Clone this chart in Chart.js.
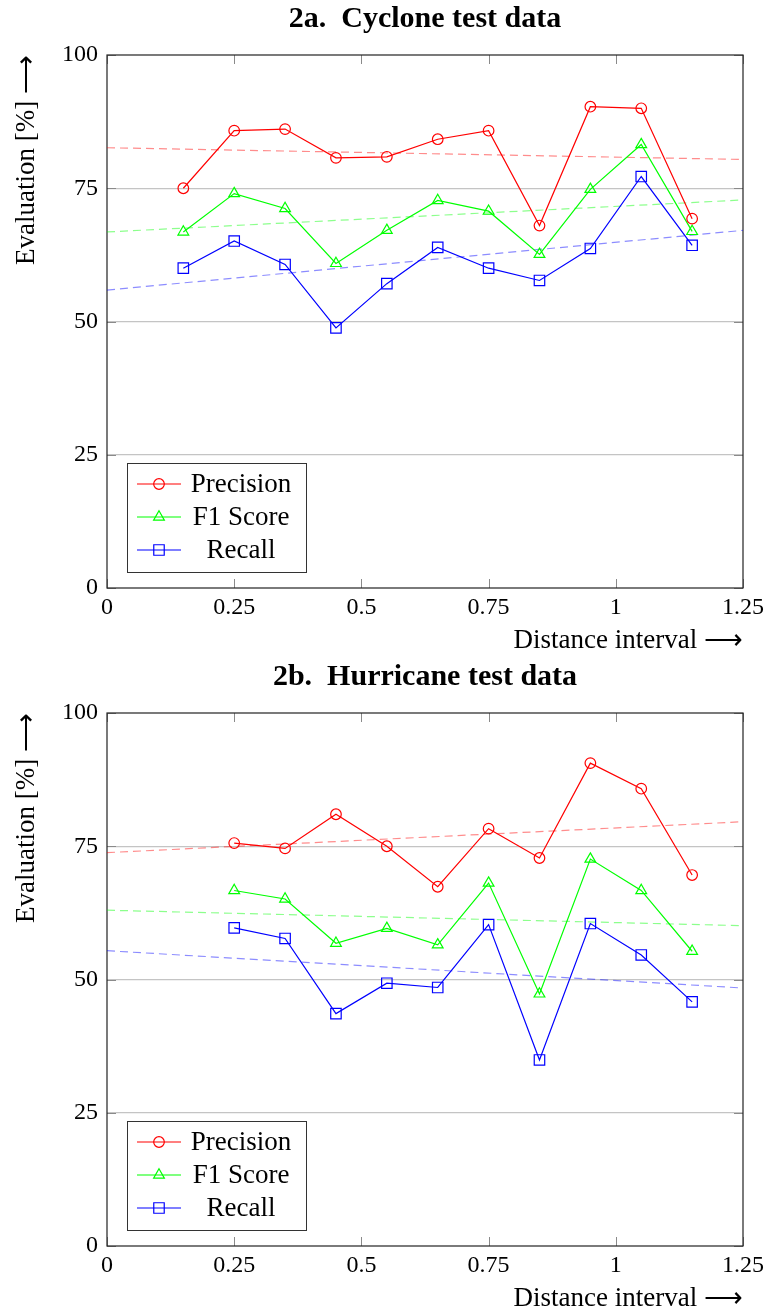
<!DOCTYPE html>
<html>
<head>
<meta charset="utf-8">
<script src="https://cdn.jsdelivr.net/npm/chart.js@4.4.0/dist/chart.umd.min.js"></script>
<style>
  body { margin: 0; background: #fff; }
  .chart-box { position: relative; width: 771px; height: 658px; }
</style>
</head>
<body>
<div class="chart-box"><canvas id="cyclone"></canvas></div>
<div class="chart-box"><canvas id="hurricane"></canvas></div>
<script>
// axis ticks
const xTicks = [0, 0.25, 0.5, 0.75, 1, 1.25];
const xTickLabels = ["0", "0.25", "0.5", "0.75", "1", "1.25"];
const yTicks = [0, 25, 50, 75, 100];
const yTickLabels = ["0", "25", "50", "75", "100"];
const seriesNames = ["Precision", "F1 Score", "Recall"];
const trendX = [0, 1.25];

// 2a. Cyclone test data
const cycloneX = [0.15, 0.25, 0.35, 0.45, 0.55, 0.65, 0.75, 0.85, 0.95, 1.05, 1.15];
const cyclonePrecision = [75.0, 85.8, 86.1, 80.7, 80.9, 84.2, 85.8, 68.0, 90.3, 90.0, 69.3];
const cycloneF1 = [66.8, 74.0, 71.2, 60.9, 67.1, 72.7, 70.7, 62.6, 74.8, 83.2, 66.9];
const cycloneRecall = [60.0, 65.1, 60.7, 48.8, 57.1, 63.9, 60.0, 57.7, 63.7, 77.2, 64.3];
const cyclonePrecisionTrend = [82.6, 80.4];
const cycloneF1Trend = [66.8, 72.8];
const cycloneRecallTrend = [55.9, 67.1];

// 2b. Hurricane test data
const hurricaneX = [0.25, 0.35, 0.45, 0.55, 0.65, 0.75, 0.85, 0.95, 1.05, 1.15];
const hurricanePrecision = [75.6, 74.6, 81.0, 75.0, 67.4, 78.3, 72.8, 90.6, 85.8, 69.6];
const hurricaneF1 = [66.7, 65.1, 56.8, 59.6, 56.5, 68.1, 47.3, 72.6, 66.7, 55.3];
const hurricaneRecall = [59.7, 57.7, 43.6, 49.3, 48.5, 60.3, 34.9, 60.5, 54.6, 45.8];
const hurricanePrecisionTrend = [73.8, 79.6];
const hurricaneF1Trend = [63.0, 60.1];
const hurricaneRecallTrend = [55.4, 48.4];

const serif = "'Liberation Serif', 'Times New Roman', serif";
const lineColors = ["#ff0000", "#00ff00", "#0000ff"];
const trendColors = ["rgba(255,0,0,0.45)", "rgba(0,255,0,0.45)", "rgba(0,0,255,0.45)"];
const markStyles = ["circle", "triangle", "rect"];
const markRadius = [5.3, 6.2, 7.4];

function pts(xs, ys) {
  return xs.map((x, i) => ({ x: x, y: ys[i] }));
}

function drawMark(ctx, style, x, y, r) {
  ctx.beginPath();
  if (style === "circle") {
    ctx.arc(x, y, r, 0, Math.PI * 2);
  } else if (style === "triangle") {
    for (let k = 0; k < 3; k++) {
      const a = k * 2 * Math.PI / 3;
      const px = x + Math.sin(a) * r, py = y - Math.cos(a) * r;
      if (k === 0) ctx.moveTo(px, py); else ctx.lineTo(px, py);
    }
    ctx.closePath();
  } else {
    const s = r * Math.SQRT1_2;
    ctx.rect(x - s, y - s, 2 * s, 2 * s);
  }
  ctx.stroke();
}

// box around the plot with small inward ticks
const framePlugin = {
  id: "frame",
  beforeDatasetsDraw(chart) {
    const { ctx, chartArea: a, scales } = chart;
    ctx.save();
    ctx.strokeStyle = "#8a8a8a";
    ctx.lineWidth = 1;
    ctx.beginPath();
    xTicks.forEach((v) => {
      const px = Math.round(scales.x.getPixelForValue(v)) + 0.5;
      ctx.moveTo(px, a.top); ctx.lineTo(px, a.top + 9);
      ctx.moveTo(px, a.bottom); ctx.lineTo(px, a.bottom - 9);
    });
    yTicks.forEach((v) => {
      const py = Math.round(scales.y.getPixelForValue(v)) + 0.5;
      ctx.moveTo(a.left, py); ctx.lineTo(a.left + 9, py);
      ctx.moveTo(a.right, py); ctx.lineTo(a.right - 9, py);
    });
    ctx.stroke();
    ctx.strokeStyle = "#222";
    ctx.lineWidth = 1.2;
    ctx.strokeRect(a.left, a.top, a.right - a.left, a.bottom - a.top);
    ctx.restore();
  }
};

// legend box inside the lower left corner
const boxLegend = {
  id: "boxLegend",
  afterDraw(chart) {
    const { ctx, chartArea: a } = chart;
    const bx = a.left + 20, by = a.bottom - 125, bw = 179, bh = 109;
    ctx.save();
    ctx.fillStyle = "#fff";
    ctx.fillRect(bx, by, bw, bh);
    ctx.strokeStyle = "#333";
    ctx.lineWidth = 1;
    ctx.strokeRect(bx + 0.5, by + 0.5, bw, bh);
    seriesNames.forEach((name, i) => {
      const y = by + 21 + i * 33;
      ctx.strokeStyle = lineColors[i];
      ctx.lineWidth = 1.2;
      ctx.beginPath();
      ctx.moveTo(bx + 10, y); ctx.lineTo(bx + 54, y);
      ctx.stroke();
      drawMark(ctx, markStyles[i], bx + 32, y, markRadius[i]);
      ctx.fillStyle = "#000";
      ctx.font = "27px " + serif;
      ctx.textAlign = "center";
      ctx.textBaseline = "middle";
      ctx.fillText(name, bx + 114, y + 1);
    });
    ctx.restore();
  }
};

function makeChart(id, title, xs, series, trends) {
  const datasets = series.map((ys, i) => ({
    label: seriesNames[i],
    data: pts(xs, ys),
    borderColor: lineColors[i],
    borderWidth: 1.2,
    pointStyle: markStyles[i],
    pointRadius: markRadius[i],
    pointBorderWidth: 1.2,
    pointBorderColor: lineColors[i],
    pointBackgroundColor: "rgba(0,0,0,0)",
    tension: 0,
    fill: false,
  }));
  trends.forEach((ys, i) => {
    datasets.push({
      label: seriesNames[i] + " trend",
      data: pts(trendX, ys),
      borderColor: trendColors[i],
      borderWidth: 1.2,
      borderDash: [8, 5],
      pointRadius: 0,
      tension: 0,
      fill: false,
    });
  });

  new Chart(document.getElementById(id), {
    type: "line",
    data: { datasets: datasets },
    plugins: [framePlugin, boxLegend],
    options: {
      responsive: true,
      maintainAspectRatio: false,
      animation: false,
      layout: { padding: { left: 0, right: 28, top: 0, bottom: 0 } },
      plugins: {
        legend: { display: false },
        tooltip: { enabled: false },
        title: {
          display: true,
          text: title,
          fullSize: false,
          color: "#000",
          font: { family: serif, size: 30, weight: "bold" },
          padding: { top: 1, bottom: 18 },
        },
      },
      scales: {
        x: {
          type: "linear",
          min: 0,
          max: 1.25,
          afterBuildTicks: (s) => { s.ticks = xTicks.map((v) => ({ value: v })); },
          afterFit: (s) => { s.height = 70; },
          ticks: {
            callback: (v, i) => xTickLabels[i],
            color: "#000",
            font: { family: serif, size: 24 },
            padding: 5,
            maxRotation: 0,
            autoSkip: false,
          },
          grid: { display: false, drawTicks: false },
          border: { display: false },
          title: {
            display: true,
            text: "Distance interval ⟶",
            align: "end",
            color: "#000",
            font: { family: serif, size: 27 },
            padding: { top: 0, bottom: 1 },
          },
        },
        y: {
          min: 0,
          max: 100,
          afterBuildTicks: (s) => { s.ticks = yTicks.map((v) => ({ value: v })); },
          afterFit: (s) => { s.width = 107; },
          ticks: {
            callback: (v, i) => yTickLabels[i],
            color: "#000",
            font: { family: serif, size: 24 },
            padding: 9,
          },
          grid: {
            drawTicks: false,
            lineWidth: 1.2,
            color: (c) => (c.tick && c.tick.value > 0 && c.tick.value < 100 ? "#c4c4c4" : "rgba(0,0,0,0)"),
          },
          border: { display: false },
          title: {
            display: true,
            text: "Evaluation [%] ⟶",
            align: "end",
            color: "#000",
            font: { family: serif, size: 27 },
            padding: { top: 11, bottom: 0 },
          },
        },
      },
    },
  });
}

makeChart("cyclone", "2a.  Cyclone test data", cycloneX,
  [cyclonePrecision, cycloneF1, cycloneRecall],
  [cyclonePrecisionTrend, cycloneF1Trend, cycloneRecallTrend]);
makeChart("hurricane", "2b.  Hurricane test data", hurricaneX,
  [hurricanePrecision, hurricaneF1, hurricaneRecall],
  [hurricanePrecisionTrend, hurricaneF1Trend, hurricaneRecallTrend]);
</script>
</body>
</html>
